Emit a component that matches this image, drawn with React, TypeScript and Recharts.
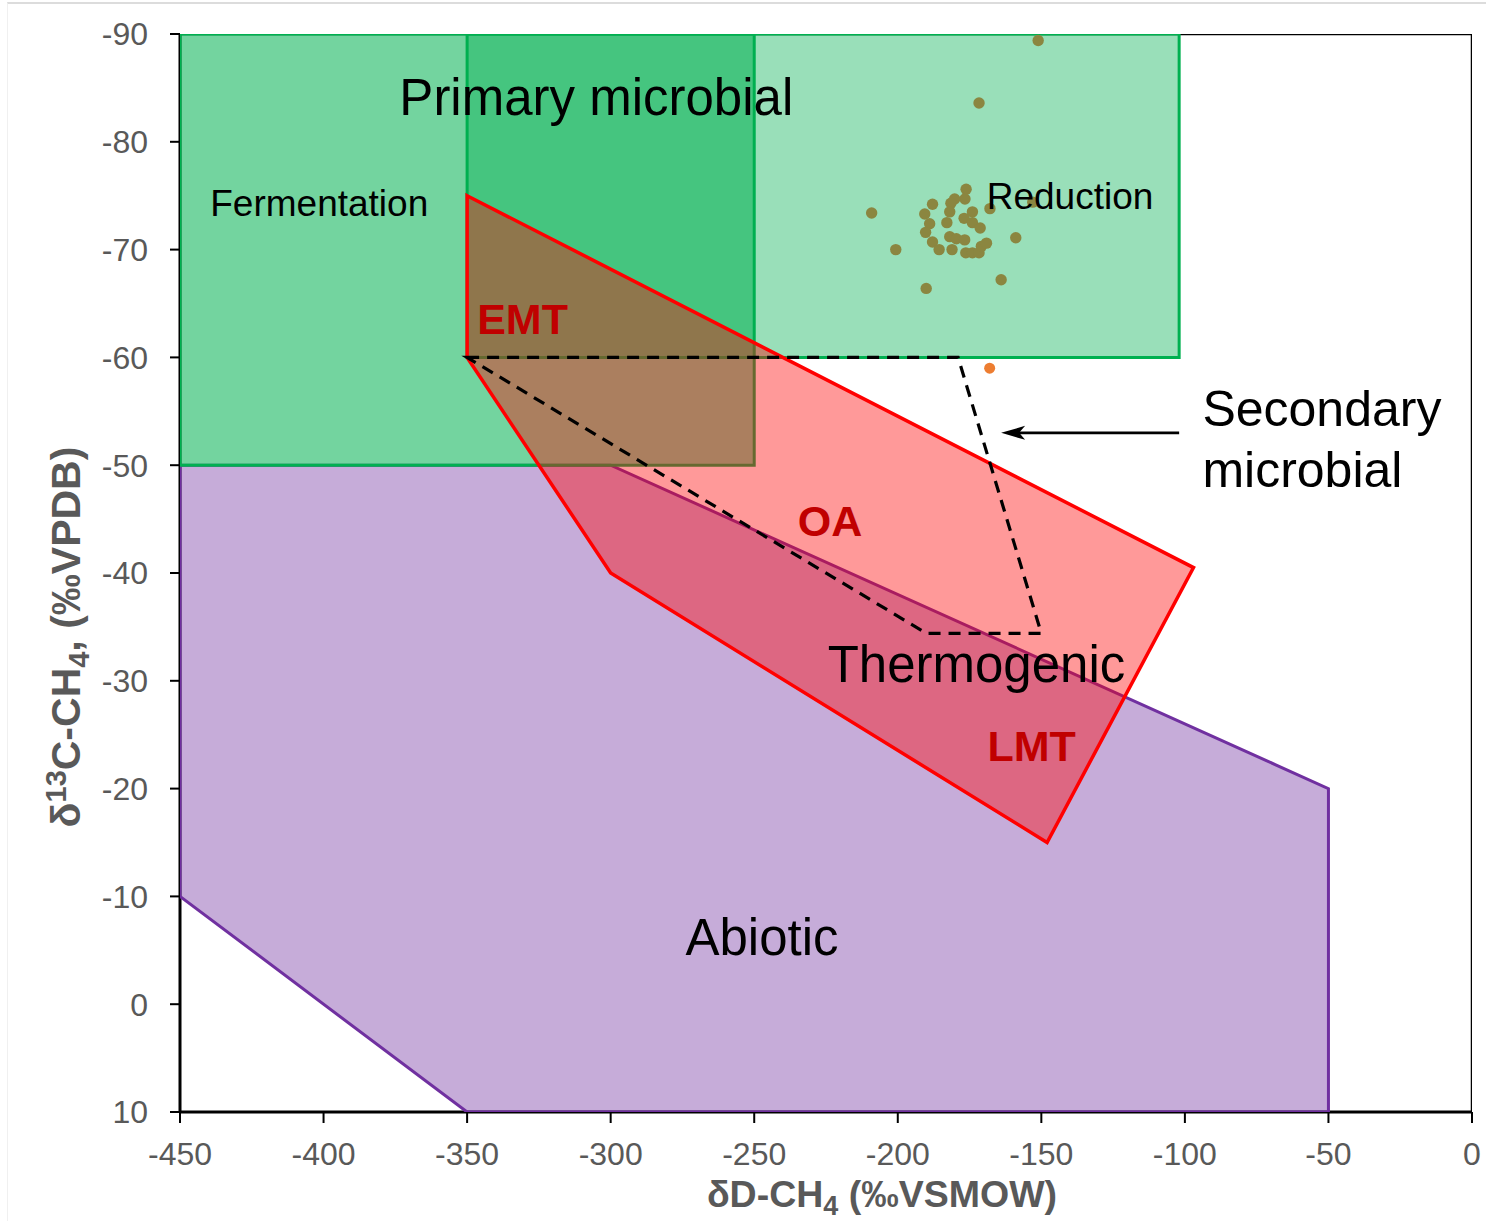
import React from 'react';
import { ScatterChart, Scatter, XAxis, YAxis } from 'recharts';

const xTicks = [-450, -400, -350, -300, -250, -200, -150, -100, -50, 0];
const yTicks = [-90, -80, -70, -60, -50, -40, -30, -20, -10, 0, 10];

// genetic fields, outline vertices as (δD, δ13C)
const fermentationD = [-450, -250, -250, -450];
const fermentationC = [-90, -90, -50, -50];
const reductionD = [-350, -102, -102, -350];
const reductionC = [-90, -90, -60, -60];
const thermogenicD = [-350, -97, -148, -300, -350];
const thermogenicC = [-75, -40.5, -15, -40, -60];
const abioticD = [-450, -300, -50, -50, -350, -450];
const abioticC = [-50, -50, -20, 10, 10, -10];
const secondaryD = [-350, -179, -150, -190, -350];
const secondaryC = [-60, -60, -34.4, -34.4, -60];
const frameD = [-450, 0, 0];
const frameC = [-90, -90, 10];
const arrowD = [-102, -164];
const arrowC = [-53, -53];

// measured samples
const sampleD = [
  -151.1, -171.7, -209.1, -200.7, -190.1, -164.0, -158.9, -167.9, -153.0, -176.2,
  -176.6, -180.2, -181.5, -187.9, -190.6, -181.9, -174.0, -176.9, -174.0, -171.3,
  -182.9, -188.9, -190.3, -181.9, -179.6, -176.7, -187.9, -185.6, -181.1, -176.3,
  -174.0, -171.7, -170.9, -169.1,
];
const sampleC = [
  -89.4, -83.6, -73.4, -70.0, -66.4, -67.2, -71.1, -73.8, -74.4, -75.6,
  -74.7, -74.7, -74.3, -74.2, -73.3, -73.5, -73.5, -72.9, -72.5, -72.0,
  -72.5, -72.4, -71.6, -71.2, -71.0, -70.9, -70.7, -70.0, -70.0, -69.7,
  -69.7, -69.7, -70.3, -70.6,
];
const outlierD = [-168];
const outlierC = [-59];

const zip = (xs: number[], ys: number[]) => xs.map((x, i) => ({ x, y: ys[i] }));

const annotations = [
  { x: -305, y: -82.5, text: 'Primary microbial', size: 51, color: '#000', bold: false, anchor: 'middle' },
  { x: -401.5, y: -73.1, text: 'Fermentation', size: 37, color: '#000', bold: false, anchor: 'middle' },
  { x: -140, y: -73.8, text: 'Reduction', size: 37, color: '#000', bold: false, anchor: 'middle' },
  { x: -330.7, y: -62.2, text: 'EMT', size: 43, color: '#C00000', bold: true, anchor: 'middle' },
  { x: -223.6, y: -43.4, text: 'OA', size: 43, color: '#C00000', bold: true, anchor: 'middle' },
  { x: -153.4, y: -22.6, text: 'LMT', size: 43, color: '#C00000', bold: true, anchor: 'middle' },
  { x: -172.6, y: -29.9, text: 'Thermogenic', size: 51, color: '#000', bold: false, anchor: 'middle' },
  { x: -247.3, y: -4.6, text: 'Abiotic', size: 51, color: '#000', bold: false, anchor: 'middle' },
  { x: -93.9, y: -53.6, text: 'Secondary', size: 50, color: '#000', bold: false, anchor: 'start' },
  { x: -93.9, y: -48.0, text: 'microbial', size: 50, color: '#000', bold: false, anchor: 'start' },
];

const GRAY = '#595959';

const noDot = () => <g />;

const pathOf = (pts: { x: number; y: number }[], closed: boolean) =>
  pts.map((p, i) => `${i ? 'L' : 'M'}${p.x},${p.y}`).join(' ') + (closed ? ' Z' : '');

const polygon = (fill: string, stroke: string, width = 3) => (props: any) => (
  <path d={pathOf(props.points, true)} fill={fill} stroke={stroke} strokeWidth={width} strokeLinejoin="miter" />
);

const dashedLoop = (props: any) => (
  <path d={pathOf(props.points, true)} fill="none" stroke="#000" strokeWidth={3.2} strokeDasharray="12 8" />
);

const frameLine = (props: any) => (
  <path d={pathOf(props.points, false)} fill="none" stroke="#000" strokeWidth={2.5} />
);

const arrowLine = (props: any) => {
  const [a, b] = props.points;
  const dir = Math.sign(b.x - a.x) || 1;
  const len = 24;
  const half = 7;
  return (
    <g>
      <line x1={a.x} y1={a.y} x2={b.x - dir * 10} y2={b.y} stroke="#000" strokeWidth={2.8} />
      <path d={`M${b.x},${b.y} L${b.x - dir * len},${b.y - half} L${b.x - dir * (len - 6)},${b.y} L${b.x - dir * len},${b.y + half} Z`} fill="#000" />
    </g>
  );
};

const dot = (color: string, r: number) => (props: any) => <circle cx={props.cx} cy={props.cy} r={r} fill={color} />;

const annotationText = (props: any) => {
  const a = props.payload;
  return (
    <text x={props.cx} y={props.cy} textAnchor={a.anchor} fontSize={a.size} fill={a.color} fontWeight={a.bold ? 700 : 400}>
      {a.text}
    </text>
  );
};

const XTitle = (props: any) => {
  const vb = props.viewBox;
  const cx = vb.x + vb.width / 2 + 56;
  const y = vb.y + 95;
  return (
    <text x={cx} y={y} textAnchor="middle" fontSize={37.5} fontWeight={700} fill={GRAY}>
      δD-CH<tspan dy={8} fontSize={27}>4</tspan>
      <tspan dy={-8}> (‰VSMOW)</tspan>
    </text>
  );
};

const YTitle = (props: any) => {
  const vb = props.viewBox;
  const x = 80;
  const y = vb.y + vb.height / 2 + 64;
  return (
    <text x={x} y={y} transform={`rotate(-90, ${x}, ${y})`} textAnchor="middle" fontSize={41} fontWeight={700} fill={GRAY}>
      δ<tspan dy={-14} fontSize={29}>13</tspan>
      <tspan dy={14}>C-CH</tspan>
      <tspan dy={9} fontSize={29}>4</tspan>
      <tspan dy={-9}>, (‰VPDB)</tspan>
    </text>
  );
};

export default function App() {
  return (
    <div style={{ position: 'absolute', left: 0, top: 0, width: 1486, height: 1221, background: '#fff', fontFamily: '"Liberation Sans", Arial, sans-serif' }}>
      <div style={{ position: 'absolute', left: 7, top: 2, right: 0, bottom: 0, borderTop: '2px solid #DCDCDC', borderLeft: '1px solid #F0F0F0' }} />
      <ScatterChart width={1486} height={1221} margin={{ top: 34, right: 14, bottom: 0, left: 0 }} style={{ position: 'absolute', left: 0, top: 0 }}>
        <XAxis
          type="number"
          dataKey="x"
          domain={[-450, 0]}
          ticks={xTicks}
          allowDataOverflow
          height={109}
          tickSize={11}
          tickMargin={19}
          axisLine={{ stroke: '#000', strokeWidth: 3 }}
          tickLine={{ stroke: '#000', strokeWidth: 2 }}
          tick={{ fill: GRAY, fontSize: 32 }}
          label={{ content: (p: any) => <XTitle {...p} /> }}
        />
        <YAxis
          type="number"
          dataKey="y"
          domain={[-90, 10]}
          reversed
          ticks={yTicks}
          allowDataOverflow
          width={180}
          tickSize={10}
          tickMargin={22}
          axisLine={{ stroke: '#000', strokeWidth: 3 }}
          tickLine={{ stroke: '#000', strokeWidth: 2 }}
          tick={{ fill: GRAY, fontSize: 32 }}
          label={{ content: (p: any) => <YTitle {...p} /> }}
        />
        <Scatter data={zip(frameD, frameC)} line={frameLine} shape={noDot} isAnimationActive={false} />
        <Scatter data={zip(abioticD, abioticC)} line={polygon('rgba(112,48,160,0.4)', '#7030A0', 3)} shape={noDot} isAnimationActive={false} />
        <Scatter data={zip(fermentationD, fermentationC)} line={polygon('rgba(0,176,80,0.55)', '#00B050', 3)} shape={noDot} isAnimationActive={false} />
        <Scatter data={zip(reductionD, reductionC)} line={polygon('rgba(0,176,80,0.4)', '#00B050', 3)} shape={noDot} isAnimationActive={false} />
        <Scatter data={zip(thermogenicD, thermogenicC)} line={polygon('rgba(255,0,0,0.4)', '#FF0000', 3.5)} shape={noDot} isAnimationActive={false} />
        <Scatter data={zip(secondaryD, secondaryC)} line={dashedLoop} shape={noDot} isAnimationActive={false} />
        <Scatter data={zip(arrowD, arrowC)} line={arrowLine} shape={noDot} isAnimationActive={false} />
        <Scatter data={zip(sampleD, sampleC)} shape={dot('#8B8640', 5.7)} isAnimationActive={false} />
        <Scatter data={zip(outlierD, outlierC)} shape={dot('#ED7D31', 5.5)} isAnimationActive={false} />
        <Scatter data={annotations} shape={annotationText} isAnimationActive={false} />
      </ScatterChart>
    </div>
  );
}
